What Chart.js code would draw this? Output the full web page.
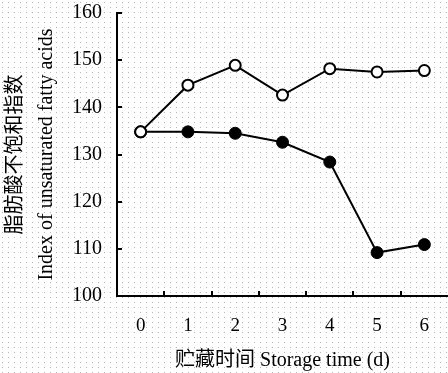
<!DOCTYPE html>
<html>
<head>
<meta charset="utf-8">
<script src="https://cdn.jsdelivr.net/npm/chart.js@4"></script>
<style>
  html, body { margin: 0; padding: 0; background: #fff; }
  #wrap { width: 448px; height: 373px; }
</style>
</head>
<body>
<div id="wrap"><canvas id="c" width="448" height="373"></canvas></div>
<script>
// Storage days and unsaturated fatty acid index for the two treatments
const days = ['0', '1', '2', '3', '4', '5', '6'];
const openSeries = [134.8, 144.7, 148.9, 142.6, 148.2, 147.5, 147.8];
const filledSeries = [134.8, 134.8, 134.5, 132.6, 128.4, 109.2, 110.9];
const yTicks = [100, 110, 120, 130, 140, 150, 160];

const FONT = "'Liberation Serif', 'Times New Roman', 'Noto Sans CJK SC', serif";

// light dotted paper behind everything
const dotBackground = {
  id: 'dotBackground',
  beforeDraw(chart) {
    const ctx = chart.ctx;
    const tile = document.createElement('canvas');
    tile.width = 6; tile.height = 5;
    const t = tile.getContext('2d');
    t.fillStyle = '#b4b4b4';
    t.fillRect(2, 2, 1, 1);
    ctx.save();
    ctx.fillStyle = '#fff';
    ctx.fillRect(0, 0, chart.width, chart.height);
    ctx.fillStyle = ctx.createPattern(tile, 'repeat');
    ctx.fillRect(0, 0, chart.width, chart.height);
    ctx.restore();
  }
};

// short tick marks pointing into the plot area
const innerTicks = {
  id: 'innerTicks',
  afterDraw(chart) {
    const ctx = chart.ctx;
    const xs = chart.scales.x, ys = chart.scales.y;
    const len = 5;
    ctx.save();
    ctx.strokeStyle = '#000';
    ctx.lineWidth = 2;
    ctx.beginPath();
    yTicks.forEach(v => {
      const y = Math.round(ys.getPixelForValue(v));
      ctx.moveTo(xs.left, y);
      ctx.lineTo(xs.left + len, y);
    });
    for (let i = 0; i < days.length - 1; i++) {
      const x = Math.round((xs.getPixelForValue(i) + xs.getPixelForValue(i + 1)) / 2);
      ctx.moveTo(x, ys.bottom);
      ctx.lineTo(x, ys.bottom - len);
    }
    ctx.stroke();
    ctx.restore();
  }
};

new Chart(document.getElementById('c'), {
  type: 'line',
  data: {
    labels: days,
    datasets: [
      {
        data: openSeries,
        borderColor: '#000',
        borderWidth: 2,
        backgroundColor: '#fff',
        pointBackgroundColor: '#fff',
        pointBorderColor: '#000',
        pointBorderWidth: 2,
        pointRadius: 5.5,
        tension: 0,
        clip: false
      },
      {
        data: filledSeries,
        borderColor: '#000',
        borderWidth: 2,
        backgroundColor: '#000',
        pointBackgroundColor: '#000',
        pointBorderColor: '#000',
        pointBorderWidth: 1,
        pointRadius: 6,
        tension: 0,
        clip: false
      }
    ]
  },
  options: {
    responsive: false,
    animation: false,
    layout: { autoPadding: false, padding: { top: 13, right: 0, bottom: 0, left: 0 } },
    plugins: { legend: { display: false }, tooltip: { enabled: false } },
    scales: {
      x: {
        type: 'category',
        offset: true,
        grid: { display: true, drawOnChartArea: false, drawTicks: false, offset: true },
        border: { display: true, color: '#000', width: 2 },
        ticks: { color: '#000', padding: 0, font: { family: FONT, size: 19, lineHeight: 3.16 } },
        title: {
          display: true,
          text: '贮藏时间 Storage time (d)',
          color: '#000',
          padding: { top: 0, bottom: 0 },
          font: { family: FONT, size: 20 }
        },
        afterFit(scale) { scale.height = 77; }
      },
      y: {
        min: 100,
        max: 160,
        afterBuildTicks(scale) { scale.ticks = yTicks.map(v => ({ value: v })); },
        grid: { display: true, drawOnChartArea: false, drawTicks: false },
        border: { display: true, color: '#000', width: 2 },
        ticks: { color: '#000', padding: 15, font: { family: FONT, size: 20 } },
        title: {
          display: true,
          text: ['脂肪酸不饱和指数', 'Index of unsaturated fatty acids'],
          color: '#000',
          padding: { top: 0, bottom: 0 },
          font: { family: FONT, size: 20, lineHeight: 1.55 }
        },
        afterFit(scale) {
          scale.width = 117;
          scale.paddingTop = 0;
          scale.paddingBottom = 0;
        }
      }
    }
  },
  plugins: [dotBackground, innerTicks]
});
</script>
</body>
</html>
